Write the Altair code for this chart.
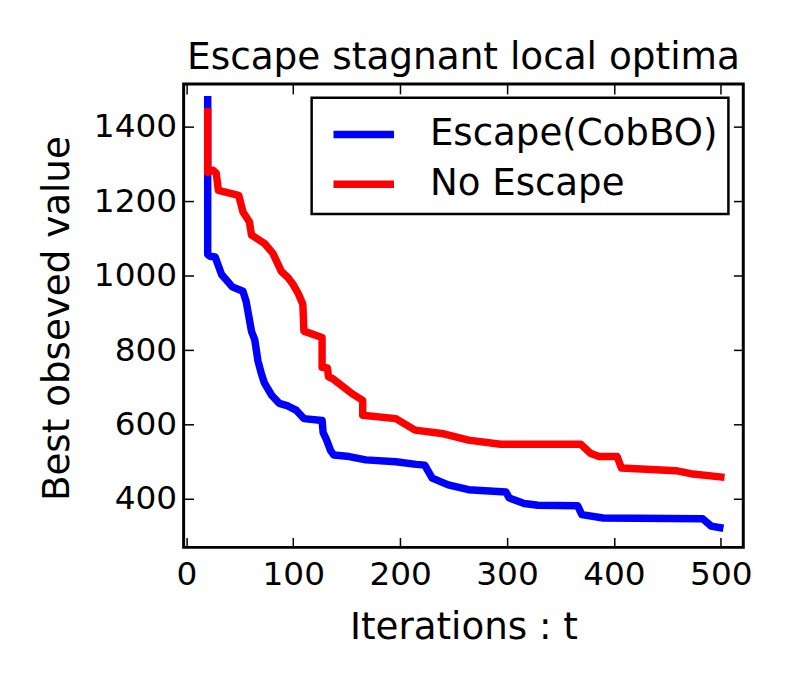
import altair as alt
import pandas as pd

# ---- data ----
series = ["Escape(CobBO)", "No Escape"]
colors = ["#0000ff", "#ff0000"]

esc_t = [20, 20, 22, 27, 33, 43, 53, 56, 61, 64, 67, 70, 73, 80, 87, 95, 103, 110,
         127, 128, 131, 135, 138, 150, 168, 196, 215, 223, 230, 245, 264, 299, 302,
         316, 329, 366, 370, 390, 483, 491, 499]
esc_v = [1473, 1057, 1052, 1050, 1003, 970, 958, 930, 850, 828, 771, 739, 712, 678,
         657, 650, 638, 616, 611, 578, 560, 530, 518, 515, 505, 500, 493, 491, 456,
         438, 425, 419, 403, 388, 383, 382, 358, 349, 347, 327, 323]

noesc_t = [20, 20, 25, 28, 30, 49, 53, 59, 61, 73, 81, 89, 95, 100, 105, 109, 110,
           127, 127, 132, 133, 137, 155, 165, 165, 196, 214, 239, 264, 294, 369, 378,
           386, 403, 407, 458, 474, 500]
noesc_v = [1440, 1278, 1283, 1275, 1229, 1216, 1171, 1145, 1109, 1087, 1060, 1011,
           995, 976, 950, 923, 851, 834, 754, 752, 728, 723, 683, 665, 625, 616, 585,
           576, 558, 547, 547, 523, 514, 514, 483, 476, 467, 459]

x_ticks = [0, 100, 200, 300, 400, 500]
y_ticks = [400, 600, 800, 1000, 1200, 1400]

rows = []
for name, ts, vs in ((series[0], esc_t, esc_v), (series[1], noesc_t, noesc_v)):
    for i, (t, v) in enumerate(zip(ts, vs)):
        rows.append({"series": name, "t": t, "v": v, "i": i})
df = pd.DataFrame(rows)

FONT = "DejaVu Sans"
xscale = alt.Scale(domain=[-2.5, 521], nice=False, zero=False)
yscale = alt.Scale(domain=[270, 1515], nice=False, zero=False)

common_axis = dict(
    domain=False, grid=False, format="d",
    tickSize={"expr": "-10"}, tickColor="black", tickWidth=1.5,
    labelFont=FONT, labelFontSize=33, labelColor="black",
    titleFont=FONT, titleFontSize=37.5, titleFontWeight="normal", titleColor="black",
)

base = alt.Chart(df)

lines = base.mark_line(strokeWidth=7.5, strokeCap="square", strokeJoin="round").encode(
    x=alt.X("t:Q", scale=xscale,
            axis=alt.Axis(values=x_ticks, orient="bottom", title="Iterations : t",
                          titleX=282, titleY=92, titleBaseline="alphabetic",
                          labelFlush=False, labelPadding=21, **common_axis)),
    y=alt.Y("v:Q", scale=yscale,
            axis=alt.Axis(values=y_ticks, orient="left", title="Best obseved value",
                          titleX=-116, titleY=236, titleBaseline="alphabetic",
                          titleAngle=270, labelPadding=17, **common_axis)),
    color=alt.Color("series:N", scale=alt.Scale(domain=series, range=colors),
                    legend=alt.Legend(title=None, orient="none", legendX=129, legendY=14,
                                      symbolType="M-1.4,0H1.4", symbolStrokeWidth=7.5,
                                      symbolSize=1900, symbolOffset=15.5, labelOffset=40.7,
                                      labelFont=FONT, labelFontSize=37.4, labelColor="black",
                                      labelLimit=500, labelExpr="datum.label + '\u2009'",
                                      padding=11, rowPadding=5,
                                      strokeColor="black", fillColor="white")),
    order=alt.Order("i:Q"),
)

frame = base.mark_line(opacity=0).encode(
    x=alt.X("t:Q", scale=xscale,
            axis=alt.Axis(values=x_ticks, orient="top", labels=False, title="", **common_axis)),
    y=alt.Y("v:Q", scale=yscale,
            axis=alt.Axis(values=y_ticks, orient="right", labels=False, title="", **common_axis)),
    detail="series:N",
    order=alt.Order("i:Q"),
)

chart = alt.layer(lines, frame).resolve_axis(x="independent", y="independent").properties(
    width=564, height=467,
    title=alt.TitleParams(text="Escape stagnant local optima", font=FONT, fontSize=37.7,
                          fontWeight="normal", color="black", anchor="middle",
                          frame="group", baseline="alphabetic", offset=11, dy=34),
    autosize=alt.AutoSizeParams(type="none"),
    padding={"left": 177, "top": 74, "right": 38, "bottom": 118},
).configure_view(stroke="black", strokeWidth=3).configure_legend(strokeWidth=2.5)

chart.save("out.html", embed_options={"renderer": "svg", "actions": False})
